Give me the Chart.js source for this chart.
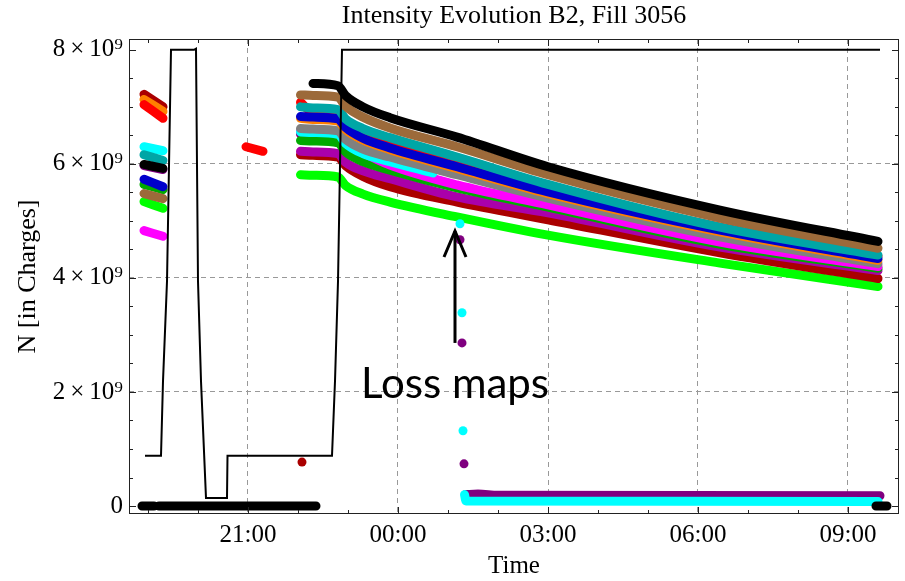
<!DOCTYPE html>
<html>
<head>
<meta charset="utf-8">
<script src="https://cdn.jsdelivr.net/npm/chart.js@4.4.1/dist/chart.umd.min.js"></script>
<style>
  html, body { margin: 0; padding: 0; background: #fff; }
  #wrap { width: 905px; height: 581px; position: relative; }
</style>
</head>
<body>
<div id="wrap"><canvas id="chart"></canvas></div>
<script>
// time in hours from midnight of the first day (24 = 00:00 next day)
// intensities in units of 1e9 charges
const leftT = [18.92, 19.3];
const redMidT = [20.96, 21.3];
const mainT = [22.05, 22.3, 22.8, 22.95, 23.3, 23.84, 25.18, 27.0, 30.44, 33.6];
const earlyT = [22.05, 22.3, 22.8, 22.95, 23.3, 23.84, 24.7];
const purpleEarlyT = [22.05, 22.3, 22.8, 22.95, 23.3, 23.84, 25.18];

const blackLeft = [5.99, 5.92];
const blackMain = [null, 7.41, 7.37, 7.20, 7.00, 6.81, 6.47, 5.95, 5.19, 4.64];
const brownLeft = [5.48, 5.39];
const brownMain = [7.21, 7.20, 7.17, 7.01, 6.82, 6.63, 6.30, 5.81, 5.05, 4.52];
const tealLeft = [6.16, 6.06];
const tealMain = [7.00, 6.98, 6.95, 6.79, 6.62, 6.46, 6.12, 5.64, 4.89, 4.40];
const blueLeft = [5.73, 5.60];
const blueMain = [6.83, 6.82, 6.79, 6.64, 6.45, 6.28, 5.95, 5.51, 4.84, 4.34];
const redLeft = [7.04, 6.80];
const redMid = [6.30, 6.22];
const redMain = [7.08, 6.90, 6.86, 6.70, 6.51, 6.34, 6.00, 5.56, 4.89, 4.38];
const orangeLeft = [7.13, 6.92];
const orangeMain = [6.80, 6.78, 6.75, 6.60, 6.42, 6.25, 5.92, 5.48, 4.81, 4.31];
const grayMain = [6.62, 6.61, 6.58, 6.43, 6.26, 6.12, 5.81, 5.40, 4.72, 4.25];
const cyanLeft = [6.30, 6.23];
const cyanEarly = [6.56, 6.55, 6.52, 6.36, 6.18, 6.04, 5.84];
const magentaLeft = [4.83, 4.73];
const magentaMain = [6.58, 6.57, 6.54, 6.38, 6.20, 5.98, 5.63, 5.28, 4.63, 4.20];
const greenLeft = [5.64, 5.55];
const greenMain = [6.41, 6.40, 6.37, 6.21, 6.04, 5.89, 5.58, 5.24, 4.59, 4.17];
const purpleMain = [6.22, 6.21, 6.18, 6.03, 5.88, 5.74, 5.42, 5.14, 4.54, 4.13];
const dkPurpleLeft = [5.97, 5.90];
const dkPurpleEarly = [6.52, 6.51, 6.48, 6.32, 6.14, 5.96, 5.61];
const darkRedLeft = [7.22, 7.00];
const darkRedMain = [6.16, 6.15, 6.12, 5.97, 5.78, 5.60, 5.33, 5.02, 4.44, 3.99];
const limeLeft = [5.34, 5.22];
const limeMain = [5.81, 5.80, 5.77, 5.62, 5.47, 5.33, 5.07, 4.75, 4.26, 3.85];

// loss map drops
const cyanDropT = [25.24, 25.28, 25.30];
const cyanDrop = [4.95, 3.39, 1.32];
const cyanLowT = [25.33, 25.36, 33.6];
const cyanLow = [0.20, 0.09, 0.08];
const dkPurpleDropT = [25.24, 25.28, 25.32];
const dkPurpleDrop = [4.67, 2.86, 0.74];
const dkPurpleLowT = [25.35, 25.6, 26.0, 33.64];
const dkPurpleLow = [0.20, 0.21, 0.19, 0.18];
const strayT = [22.08];
const stray = [0.77];

// black zero-intensity readings
const zeroT1 = [18.88, 19.12];
const zeroT2 = [19.22, 22.36];
const zeroT3 = [33.56, 33.78];
const zeroN = [0, 0];

// thin black line
const stepT = [18.94, 19.26, 19.30, 19.38, 19.46, 19.92, 19.96, 20.0, 20.06, 20.16, 20.58, 20.59, 22.68, 22.74, 22.8, 22.88, 33.64];
const stepN = [0.88, 0.88, 2.19, 3.94, 8.0, 8.0, 8.02, 3.94, 2.19, 0.14, 0.14, 0.88, 0.88, 2.19, 3.94, 8.0, 8.0];

const chartTitle = "Intensity Evolution B2, Fill 3056";
const xTickStep = 3;
const yTickStep = 2;
const lossLabel = "Loss maps";
const lossT = 25.14;
const lossTextN = 1.89;
const arrowFromN = 2.86;
const arrowToN = 4.84;

function pts(ts, ns) {
  return ts.map((t, i) => ({ x: t, y: ns[i] }));
}
function seg(...parts) {
  let out = [];
  parts.forEach(([ts, ns], k) => {
    if (k > 0) out.push({ x: ts[0] - 0.001, y: null });
    out = out.concat(pts(ts, ns));
  });
  return out;
}

const thick = (color, data) => ({
  data,
  borderColor: color,
  backgroundColor: color,
  borderWidth: 9,
  borderCapStyle: "round",
  borderJoinStyle: "round",
  pointRadius: 0,
  spanGaps: false,
  cubicInterpolationMode: "monotone",
});
const dots = (color, data) => ({
  data,
  showLine: false,
  pointRadius: 4.5,
  pointBorderWidth: 0,
  pointBackgroundColor: color,
  borderColor: color,
});

// first dataset is drawn on top
const datasets = [
  { data: pts(stepT, stepN), borderColor: "#000", borderWidth: 2, pointRadius: 0, tension: 0 },
  thick("#000000", seg([leftT, blackLeft], [mainT, blackMain])),
  thick("#000000", seg([zeroT1, zeroN], [zeroT2, zeroN], [zeroT3, zeroN])),
  thick("#9c6a3a", seg([leftT, brownLeft], [mainT, brownMain])),
  thick("#00a6a6", seg([leftT, tealLeft], [mainT, tealMain])),
  thick("#0000cc", seg([leftT, blueLeft], [mainT, blueMain])),
  thick("#ff0000", seg([leftT, redLeft], [redMidT, redMid], [mainT, redMain])),
  thick("#ff8000", seg([leftT, orangeLeft], [mainT, orangeMain])),
  thick("#808080", seg([mainT, grayMain])),
  thick("#00ffff", seg([leftT, cyanLeft], [earlyT, cyanEarly], [cyanLowT, cyanLow])),
  dots("#00ffff", pts(cyanDropT, cyanDrop)),
  thick("#ff00ff", seg([leftT, magentaLeft], [mainT, magentaMain])),
  thick("#00aa00", seg([leftT, greenLeft], [mainT, greenMain])),
  thick("#aa00aa", seg([mainT, purpleMain])),
  thick("#800080", seg([leftT, dkPurpleLeft], [purpleEarlyT, dkPurpleEarly], [dkPurpleLowT, dkPurpleLow])),
  dots("#800080", pts(dkPurpleDropT, dkPurpleDrop)),
  thick("#aa0000", seg([leftT, darkRedLeft], [mainT, darkRedMain])),
  dots("#aa0000", pts(strayT, stray)),
  thick("#00ff00", seg([leftT, limeLeft], [mainT, limeMain])),
];

const serif = "'Liberation Serif', 'DejaVu Serif', serif";

function hhmm(v) {
  const h = ((Math.round(v) % 24) + 24) % 24;
  return (h < 10 ? "0" : "") + h + ":00";
}

const frameTicks = {
  id: "frameTicks",
  afterDatasetsDraw(chart) {
    const { ctx, chartArea: a, scales } = chart;
    const xs = scales.x, ys = scales.y;
    ctx.save();
    ctx.strokeStyle = "#222";
    ctx.lineWidth = 1;
    ctx.strokeRect(a.left + 0.5, a.top + 0.5, a.right - a.left - 1, a.bottom - a.top - 1);
    ctx.beginPath();
    for (let v = 0; v <= 8; v += 0.5) {
      const py = Math.round(ys.getPixelForValue(v)) + 0.5;
      const len = v % 2 === 0 ? 7 : 4;
      ctx.moveTo(a.left, py); ctx.lineTo(a.left + len, py);
      ctx.moveTo(a.right, py); ctx.lineTo(a.right - len, py);
    }
    for (let h = Math.ceil(xs.min); h <= xs.max; h++) {
      const px = Math.round(xs.getPixelForValue(h)) + 0.5;
      const len = h % 3 === 0 ? 7 : 4;
      ctx.moveTo(px, a.bottom); ctx.lineTo(px, a.bottom - len);
      ctx.moveTo(px, a.top); ctx.lineTo(px, a.top + len);
    }
    ctx.stroke();

    // title centred over the plot frame
    ctx.fillStyle = "#000";
    ctx.font = "26px " + serif;
    ctx.textAlign = "center";
    ctx.textBaseline = "middle";
    ctx.fillText(chartTitle, (a.left + a.right) / 2, 16);

    // loss maps annotation
    const ax = xs.getPixelForValue(lossT);
    const y0 = ys.getPixelForValue(arrowFromN);
    const y1 = ys.getPixelForValue(arrowToN);
    ctx.strokeStyle = "#000";
    ctx.lineWidth = 3;
    ctx.lineCap = "butt";
    ctx.beginPath();
    ctx.moveTo(ax, y0); ctx.lineTo(ax, y1 + 1);
    ctx.stroke();
    ctx.beginPath();
    ctx.moveTo(ax - 11, y1 + 27); ctx.lineTo(ax, y1 + 1); ctx.lineTo(ax + 11, y1 + 27);
    ctx.stroke();
    ctx.font = "42px Lato, 'Open Sans', sans-serif";
    ctx.textBaseline = "alphabetic";
    ctx.fillText(lossLabel, ax, ys.getPixelForValue(lossTextN));
    ctx.restore();
  },
};

new Chart(document.getElementById("chart"), {
  type: "line",
  data: { datasets },
  options: {
    responsive: true,
    maintainAspectRatio: false,
    animation: false,
    layout: { padding: { left: 0, right: 6, top: 39, bottom: 0 } },
    plugins: {
      legend: { display: false },
      tooltip: { enabled: false },
      title: { display: false },
    },
    scales: {
      x: {
        type: "linear",
        min: 18.62,
        max: 34.02,
        afterFit: (s) => { s.height = 67; },
        border: { display: false, dash: [5, 4] },
        grid: {
          drawTicks: false,
          color: "#999",
          lineWidth: 1,
        },
        ticks: {
          stepSize: xTickStep,
          includeBounds: false,
          padding: 6,
          color: "#000",
          font: { family: serif, size: 25 },
          maxRotation: 0,
          callback: (v) => hhmm(v),
        },
        title: {
          display: true,
          text: "Time",
          color: "#000",
          font: { family: serif, size: 25 },
          padding: { top: 0, bottom: 0 },
        },
      },
      y: {
        type: "linear",
        min: -0.14,
        max: 8.19,
        afterFit: (s) => { s.width = 129; },
        border: { display: false, dash: [5, 4] },
        grid: {
          drawTicks: false,
          color: (c) => (c.tick && c.tick.value > 0 && c.tick.value < 8 ? "#999" : "rgba(0,0,0,0)"),
          lineWidth: 1,
        },
        ticks: {
          stepSize: yTickStep,
          includeBounds: false,
          padding: 6,
          color: "#000",
          font: { family: serif, size: 25 },
          callback: (v) => (v === 0 ? "0" : v + "\u2009×\u200910⁹"),
        },
        title: {
          display: true,
          text: "N [in Charges]",
          color: "#000",
          font: { family: serif, size: 26 },
          padding: { top: 12.4, bottom: 0 },
        },
      },
    },
  },
  plugins: [frameTicks],
});
</script>
</body>
</html>
